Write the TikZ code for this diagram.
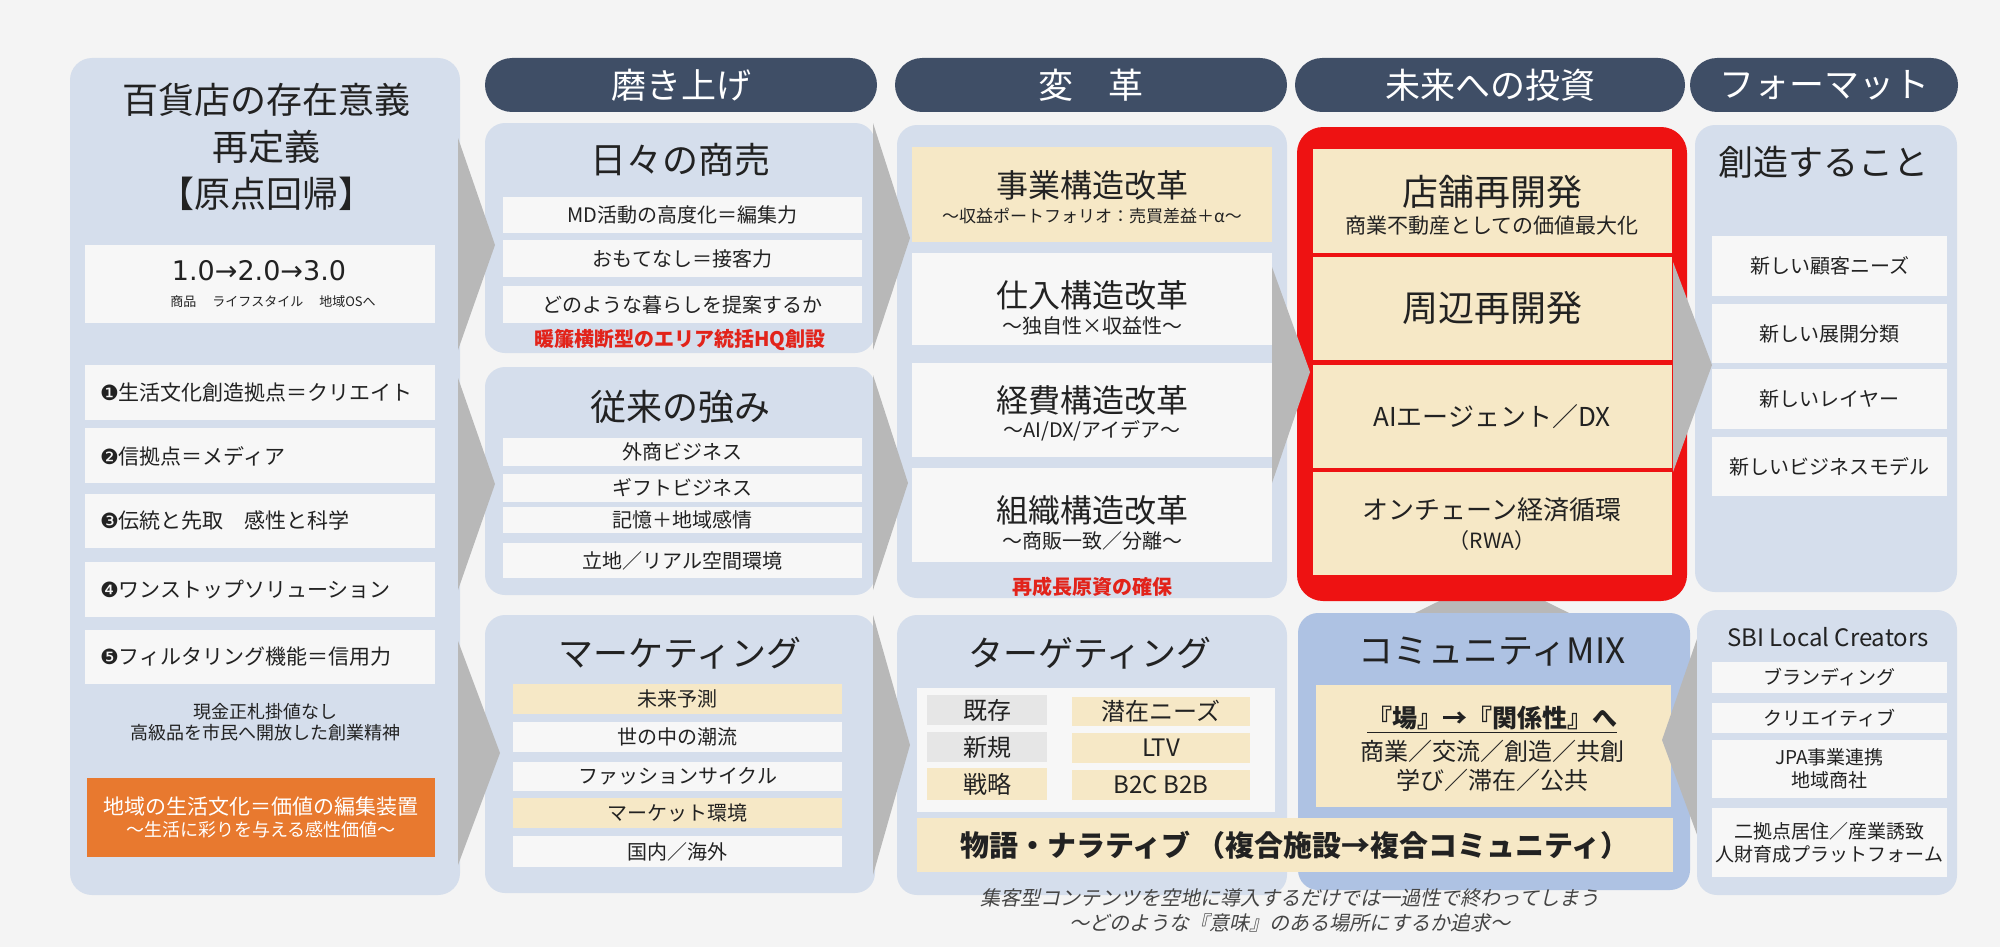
\documentclass[tikz,border=0pt]{standalone}
\usepackage{fontspec}
\setmainfont{Noto Sans CJK JP}
\newfontfamily\jpit{Noto Sans CJK JP}[FakeSlant=0.22]
\newfontfamily\dingfont{DejaVu Sans}
\definecolor{bgc}{HTML}{F4F4F4}
\definecolor{pnl}{HTML}{D5DEEC}
\definecolor{pnld}{HTML}{AEC2E3}
\definecolor{wht}{HTML}{F7F7F7}
\definecolor{ylw}{HTML}{F6E8C6}
\definecolor{gry}{HTML}{E6E6E6}
\definecolor{hdrc}{HTML}{3F4E66}
\definecolor{redc}{HTML}{EE1212}
\definecolor{redt}{HTML}{E2231A}
\definecolor{orc}{HTML}{E8792F}
\definecolor{chevc}{HTML}{B8B8B8}
\definecolor{txtc}{HTML}{222222}
\definecolor{itc}{HTML}{444444}
\newcommand{\fs}[2]{\fontsize{#1}{#2}\selectfont}
\newcommand{\mkbox}[7]{\node[#2,anchor=north west,minimum width={(#5-#3)*0.5pt},minimum height={(#6-#4)*0.5pt}] (#1) at (#3,#4) {#7};}
\tikzset{
  base/.style={inner sep=0pt,outer sep=0pt,text=txtc,align=center},
  panel/.style={base,fill=pnl,rounded corners=10pt},
  hdr/.style={base,fill=hdrc,rounded corners=13.5pt,text=white,font=\fs{17.5}{20}},
  wbox/.style={base,fill=wht,font=\fs{10}{12}},
  ybox/.style={base,fill=ylw,font=\fs{10}{12}},
  gbox/.style={base,fill=gry,font=\fs{12}{14}},
  txt/.style={inner sep=0pt,outer sep=0pt,text=txtc,align=center},
  ttl/.style={txt,font=\fs{18}{20}},
  redtxt/.style={txt,text=redt,font=\bfseries\fs{10}{12}},
  chev/.style={fill=chevc},
}
\begin{document}
\begin{tikzpicture}[x=0.5pt,y=-0.5pt]
\useasboundingbox (0,0) rectangle (2000,947);
\fill[bgc] (0,0) rectangle (2000,947);

% upward chevron under the red frame
\coordinate (gA) at (1492,575); \coordinate (gB) at (1350,645); \coordinate (gC) at (1634,645);
\fill[chev] (gA) -- (gB) -- (gC) -- cycle;

% panels
\mkbox{P1}{panel,rounded corners=11pt}{70}{58}{460}{895}{}
\mkbox{P2a}{panel}{485}{123}{875}{353}{}
\mkbox{P2b}{panel}{485}{367}{875}{595}{}
\mkbox{P2c}{panel}{485}{615}{875}{893}{}
\mkbox{P3a}{panel}{897}{125}{1287}{598}{}
\mkbox{P3b}{panel}{897}{615}{1287}{895}{}
\mkbox{P4a}{panel,fill=redc,rounded corners=13pt}{1297}{127}{1687}{601}{}
\mkbox{P4b}{panel,fill=pnld}{1298}{613}{1690}{890}{}
\mkbox{P5a}{panel}{1695}{125}{1957}{592}{}

% headers
\mkbox{H2}{hdr}{485}{58}{877}{112}{磨き上げ}
\mkbox{H3}{hdr}{895}{58}{1287}{112}{変　革}
\mkbox{H4}{hdr}{1295}{58}{1685}{112}{未来への投資}
\mkbox{H5}{hdr}{1690}{58}{1958}{112}{フォーマット}

% column 1
\node[ttl,font=\fs{18}{23.5}] (T1) at (266,147) {百貨店の存在意義\\再定義\\【原点回帰】};
\mkbox{L0}{wbox}{85}{245}{435}{323}{}
\node[txt,font=\dingfont\fs{13.5}{16}] (L0a) at (259,271) {1.0→2.0→3.0};
\node[txt,font=\fs{6.5}{8}] (L0b) at (273,302) {商品\hspace{8pt}ライフスタイル\hspace{8pt}地域OSへ};
\mkbox{L1}{wbox}{85}{365}{435}{420}{}
\mkbox{L2}{wbox}{85}{428}{435}{483}{}
\mkbox{L3}{wbox}{85}{494}{435}{548}{}
\mkbox{L4}{wbox}{85}{562}{435}{617}{}
\mkbox{L5}{wbox}{85}{630}{435}{684}{}
\node[txt,anchor=west,font=\fs{10.5}{12}] (L1t) at (100,393) {{\dingfont ❶}生活文化創造拠点＝クリエイト};
\node[txt,anchor=west,font=\fs{10.5}{12}] (L2t) at (100,456) {{\dingfont ❷}信拠点＝メディア};
\node[txt,anchor=west,font=\fs{10.5}{12}] (L3t) at (100,521) {{\dingfont ❸}伝統と先取　感性と科学};
\node[txt,anchor=west,font=\fs{10.5}{12}] (L4t) at (100,590) {{\dingfont ❹}ワンストップソリューション};
\node[txt,anchor=west,font=\fs{10.5}{12}] (L5t) at (100,657) {{\dingfont ❺}フィルタリング機能＝信用力};
\node[txt,font=\fs{9}{10.8}] (L6) at (265,722) {現金正札掛値なし\\高級品を市民へ開放した創業精神};
\mkbox{L7}{base,fill=orc}{87}{778}{435}{857}{}
\node[txt,text=white,font=\fs{10.5}{12}] (L7a) at (261,807) {地域の生活文化＝価値の編集装置};
\node[txt,text=white,font=\fs{9}{11}] (L7b) at (261,830) {～生活に彩りを与える感性価値～};

% column 2 top
\node[ttl] (T2a) at (680,160) {日々の商売};
\mkbox{A1}{wbox}{503}{197}{862}{233}{MD活動の高度化＝編集力}
\mkbox{A2}{wbox}{503}{240}{862}{277}{おもてなし＝接客力}
\mkbox{A3}{wbox}{503}{286}{862}{323}{どのような暮らしを提案するか}
\node[redtxt] (A4) at (680,340) {暖簾横断型のエリア統括HQ創設};

% column 2 middle
\node[ttl] (T2b) at (680,407) {従来の強み};
\mkbox{B1}{wbox}{503}{438}{862}{466}{外商ビジネス}
\mkbox{B2}{wbox}{503}{474}{862}{502}{ギフトビジネス}
\mkbox{B3}{wbox}{503}{507}{862}{533}{記憶＋地域感情}
\mkbox{B4}{wbox}{503}{543}{862}{578}{立地／リアル空間環境}

% column 2 bottom
\node[ttl,font=\fs{17.5}{20}] (T2c) at (680,653) {マーケティング};
\mkbox{C1}{ybox}{513}{684}{842}{714}{未来予測}
\mkbox{C2}{wbox}{513}{722}{842}{752}{世の中の潮流}
\mkbox{C3}{wbox}{513}{762}{842}{791}{ファッションサイクル}
\mkbox{C4}{ybox}{513}{798}{842}{828}{マーケット環境}
\mkbox{C5}{wbox}{513}{836}{842}{867}{国内／海外}

% column 3 top
\mkbox{D1}{ybox}{912}{147}{1272}{242}{}
\mkbox{D2}{wbox}{912}{253}{1272}{345}{}
\mkbox{D3}{wbox}{912}{363}{1272}{457}{}
\mkbox{D4}{wbox}{912}{468}{1272}{562}{}
\node[txt,font=\fs{16}{18}] (D1a) at (1092,185) {事業構造改革};
\node[txt,font=\fs{8.5}{10}] (D1b) at (1092,216) {～収益ポートフォリオ：売買差益＋α～};
\node[txt,font=\fs{16}{18}] (D2a) at (1092,295) {仕入構造改革};
\node[txt,font=\fs{10}{12}] (D2b) at (1092,326) {～独自性×収益性～};
\node[txt,font=\fs{16}{18}] (D3a) at (1092,400) {経費構造改革};
\node[txt,font=\fs{10}{12}] (D3b) at (1092,431) {～AI/DX/アイデア～};
\node[txt,font=\fs{16}{18}] (D4a) at (1092,510) {組織構造改革};
\node[txt,font=\fs{10}{12}] (D4b) at (1092,541) {～商販一致／分離～};
\node[redtxt] (D5) at (1092,587) {再成長原資の確保};

% column 3 bottom
\node[ttl,font=\fs{17.5}{20}] (T3b) at (1090,653) {ターゲティング};
\mkbox{E0}{wbox}{917}{688}{1275}{812}{}
\mkbox{E1}{gbox}{927}{695}{1047}{725}{既存}
\mkbox{E2}{gbox}{927}{732}{1047}{762}{新規}
\mkbox{E3}{gbox,fill=ylw}{927}{768}{1047}{800}{戦略}
\mkbox{E4}{gbox,fill=ylw}{1072}{697}{1250}{726}{潜在ニーズ}
\mkbox{E5}{gbox,fill=ylw}{1072}{733}{1250}{763}{LTV}
\mkbox{E6}{gbox,fill=ylw}{1072}{770}{1250}{800}{B2C B2B}

% column 4 top (red frame)
\mkbox{F1}{ybox}{1313}{149}{1672}{253}{}
\mkbox{F2}{ybox}{1313}{257}{1672}{360}{}
\mkbox{F3}{ybox}{1313}{365}{1672}{468}{}
\mkbox{F4}{ybox}{1313}{472}{1672}{575}{}
\node[txt,font=\fs{18}{20}] (F1a) at (1492,192) {店舗再開発};
\node[txt,font=\fs{10.5}{12}] (F1b) at (1492,226) {商業不動産としての価値最大化};
\node[txt,font=\fs{18}{20}] (F2a) at (1492,308) {周辺再開発};
\node[txt,font=\fs{13}{15}] (F3a) at (1492,417) {AIエージェント／DX};
\node[txt,font=\fs{13}{15}] (F4a) at (1492,510) {オンチェーン経済循環};
\node[txt,font=\fs{10.5}{12}] (F4b) at (1492,541) {（RWA）};

% column 4 bottom
\node[ttl,font=\fs{17.5}{20}] (T4b) at (1492,652) {コミュニティMIX};
\mkbox{G1}{ybox}{1316}{685}{1671}{807}{}
\node[txt,font=\bfseries\fs{12.5}{14}] (G1a) at (1492,720) {\underline{『場』→『関係性』へ}};
\node[txt,font=\fs{12}{14}] (G1b) at (1492,751) {商業／交流／創造／共創};
\node[txt,font=\fs{12}{14}] (G1c) at (1492,780) {学び／滞在／公共};

% narrative bar
\mkbox{N1}{ybox,font=\bfseries\fs{14.5}{17}}{917}{818}{1673}{872}{物語・ナラティブ\hspace{3pt}（複合施設→複合コミュニティ）}
\node[txt,text=itc,font=\jpit\fs{10}{12}] (N2) at (1290,898) {集客型コンテンツを空地に導入するだけでは一過性で終わってしまう};
\node[txt,text=itc,font=\jpit\fs{10}{12}] (N3) at (1290,923) {～どのような『意味』のある場所にするか追求～};

% column 5 top
\node[ttl,font=\fs{17.5}{20}] (T5a) at (1823,162) {創造すること};
\mkbox{K1}{wbox}{1712}{236}{1947}{296}{新しい顧客ニーズ}
\mkbox{K2}{wbox}{1712}{304}{1947}{363}{新しい展開分類}
\mkbox{K3}{wbox}{1712}{369}{1947}{429}{新しいレイヤー}
\mkbox{K4}{wbox}{1712}{437}{1947}{496}{新しいビジネスモデル}

% chevrons
\fill[chev] (458,138) -- (458,350) -- (495,245) -- cycle;
\fill[chev] (458,378) -- (458,590) -- (495,484) -- cycle;
\fill[chev] (458,641) -- (458,865) -- (500,753) -- cycle;
\fill[chev] (873,123) -- (873,350) -- (910,238) -- cycle;
\fill[chev] (873,375) -- (873,590) -- (908,483) -- cycle;
\fill[chev] (873,615) -- (873,875) -- (910,745) -- cycle;
\fill[chev] (1272,267) -- (1272,483) -- (1310,372) -- cycle;
\fill[chev] (1673,262) -- (1673,472) -- (1712,365) -- cycle;
\fill[chev] (1699,633) -- (1699,840) -- (1662,740) -- cycle;

% column 5 bottom
\mkbox{P5b}{panel}{1697}{610}{1957}{895}{}
\node[txt,font=\fs{12}{14}] (T5b) at (1828,637) {SBI Local Creators};
\mkbox{S1}{wbox,font=\fs{9.5}{11.5}}{1712}{662}{1947}{693}{ブランディング}
\mkbox{S2}{wbox,font=\fs{9.5}{11.5}}{1712}{703}{1947}{733}{クリエイティブ}
\mkbox{S3}{wbox,font=\fs{9.5}{11.5}}{1712}{740}{1947}{798}{JPA事業連携\\地域商社}
\mkbox{S4}{wbox,font=\fs{9.5}{11.5}}{1712}{808}{1947}{877}{二拠点居住／産業誘致\\人財育成プラットフォーム}
\end{tikzpicture}
\end{document}
